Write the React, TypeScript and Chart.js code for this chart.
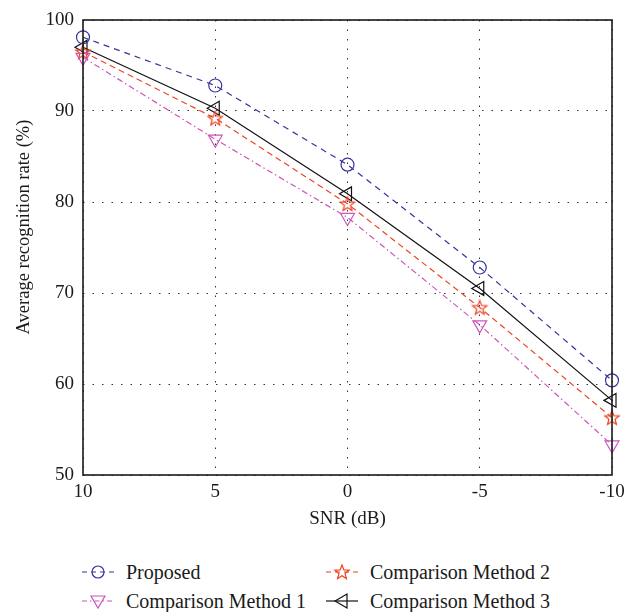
import React, { useEffect, useRef } from "react";
import { Chart, registerables } from "chart.js";

Chart.register(...registerables);

const snrLabels = ["10", "5", "0", "-5", "-10"];
const proposed = [98.1, 92.8, 84.1, 72.8, 60.4];
const method1 = [95.9, 86.9, 78.3, 66.5, 53.3];
const method2 = [96.5, 89.2, 79.8, 68.4, 56.3];
const method3 = [97.0, 90.3, 80.9, 70.5, 58.2];
const yTicks = [50, 60, 70, 80, 90, 100];

const seriesNames = ["Proposed", "Comparison Method 1", "Comparison Method 2", "Comparison Method 3"];
const xTitle = "SNR (dB)";
const yTitle = "Average recognition rate (%)";

const FONT = "'Liberation Serif', 'Times New Roman', serif";
const BLUE = "#34349e";
const RED = "#ee4422";
const MAGENTA = "#cc55bb";
const BLACK = "#111111";
const TEXT = "#1a1a1a";

function makeStar(color: string): HTMLCanvasElement {
  const c = document.createElement("canvas");
  c.width = 18;
  c.height = 18;
  const ctx = c.getContext("2d")!;
  ctx.strokeStyle = color;
  ctx.lineWidth = 1.2;
  ctx.beginPath();
  const cx = 9, cy = 9.5, ro = 7.5, ri = 3.2;
  for (let i = 0; i < 10; i++) {
    const r = i % 2 === 0 ? ro : ri;
    const a = -Math.PI / 2 + (i * Math.PI) / 5;
    const x = cx + r * Math.cos(a);
    const y = cy + r * Math.sin(a);
    if (i === 0) ctx.moveTo(x, y);
    else ctx.lineTo(x, y);
  }
  ctx.closePath();
  ctx.stroke();
  return c;
}

const boxPlugin = {
  id: "boxPlugin",
  afterDraw(chart: any) {
    const { ctx, chartArea } = chart;
    ctx.save();
    ctx.strokeStyle = "#1a1a1a";
    ctx.lineWidth = 1.6;
    ctx.strokeRect(chartArea.left, chartArea.top, chartArea.right - chartArea.left, chartArea.bottom - chartArea.top);
    // y-axis title
    ctx.translate(24, 227);
    ctx.rotate(-Math.PI / 2);
    ctx.fillStyle = TEXT;
    ctx.font = `18.5px ${FONT}`;
    ctx.textAlign = "center";
    ctx.textBaseline = "middle";
    ctx.fillText(yTitle, 0, 0);
    ctx.restore();
  },
};

function LegendMark({ color, dash, kind }: { color: string; dash: string; kind: string }) {
  const cx = 16, cy = 10;
  let marker: any = null;
  if (kind === "circle") marker = <circle cx={cx} cy={cy} r={6} fill="none" stroke={color} strokeWidth={1.2} />;
  if (kind === "down")
    marker = <polygon points={`${cx - 7},${cy - 5} ${cx + 7},${cy - 5} ${cx},${cy + 7}`} fill="none" stroke={color} strokeWidth={1.2} />;
  if (kind === "left")
    marker = <polygon points={`${cx - 7},${cy} ${cx + 5},${cy - 7} ${cx + 5},${cy + 7}`} fill="none" stroke={color} strokeWidth={1.2} />;
  if (kind === "star") {
    const pts: string[] = [];
    for (let i = 0; i < 10; i++) {
      const r = i % 2 === 0 ? 7.5 : 3.2;
      const a = -Math.PI / 2 + (i * Math.PI) / 5;
      pts.push(`${(cx + r * Math.cos(a)).toFixed(2)},${(cy + 0.5 + r * Math.sin(a)).toFixed(2)}`);
    }
    marker = <polygon points={pts.join(" ")} fill="none" stroke={color} strokeWidth={1.2} />;
  }
  return (
    <svg width={32} height={20} style={{ display: "block" }}>
      <line x1={0} y1={cy} x2={32} y2={cy} stroke={color} strokeWidth={1.2} strokeDasharray={dash} />
      {marker}
    </svg>
  );
}

export default function App() {
  const ref = useRef<HTMLCanvasElement | null>(null);

  useEffect(() => {
    if (!ref.current) return;
    const star = makeStar(RED);
    const common = { borderWidth: 1.2, pointRadius: 7, pointBorderWidth: 1.2, pointBackgroundColor: "rgba(0,0,0,0)", clip: false as any, tension: 0 };
    const chart = new Chart(ref.current, {
      type: "line",
      data: {
        labels: snrLabels,
        datasets: [
          { ...common, label: seriesNames[0], data: proposed, borderColor: BLUE, pointBorderColor: BLUE, borderDash: [6, 5], pointStyle: "circle", pointRadius: 6.5 },
          { ...common, label: seriesNames[1], data: method1, borderColor: MAGENTA, pointBorderColor: MAGENTA, borderDash: [6, 3, 1.5, 3], pointStyle: "triangle", rotation: 180, pointRadius: 8 },
          { ...common, label: seriesNames[2], data: method2, borderColor: RED, pointBorderColor: RED, borderDash: [6, 4], pointStyle: star as any },
          { ...common, label: seriesNames[3], data: method3, borderColor: BLACK, pointBorderColor: BLACK, pointStyle: "triangle", rotation: -90, pointRadius: 8 },
        ],
      },
      options: {
        responsive: false,
        animation: false,
        layout: { padding: { top: 20, right: 14, left: 0, bottom: 0 } },
        plugins: { legend: { display: false }, tooltip: { enabled: false } },
        scales: {
          x: {
            type: "category",
            offset: false,
            grid: { color: "#333", lineWidth: 1, drawTicks: false },
            border: { display: false, dash: [1.5, 8] },
            ticks: { color: TEXT, padding: 6, font: { family: FONT, size: 19 }, maxRotation: 0 },
            title: { display: true, text: xTitle, color: TEXT, font: { family: FONT, size: 19 }, padding: { top: 0, bottom: 15 } },
            afterFit: (s: any) => { s.height = 70; s.paddingLeft = 0; s.paddingRight = 0; },
          },
          y: {
            min: 50,
            max: 100,
            afterBuildTicks: (s: any) => { s.ticks = yTicks.map((v) => ({ value: v })); },
            grid: { color: "#333", lineWidth: 1, drawTicks: false },
            border: { display: false, dash: [1.5, 8] },
            ticks: { color: TEXT, padding: 9, font: { family: FONT, size: 19 } },
            title: { display: false },
            afterFit: (s: any) => { s.width = 83; s.paddingTop = 0; s.paddingBottom = 0; },
          },
        },
      },
      plugins: [boxPlugin],
    });
    return () => chart.destroy();
  }, []);

  const legendItems = [
    { name: seriesNames[0], color: BLUE, dash: "5 4", kind: "circle", left: 82, top: 562 },
    { name: seriesNames[2], color: RED, dash: "5 4", kind: "star", left: 326, top: 562 },
    { name: seriesNames[1], color: MAGENTA, dash: "5 3 1.5 3", kind: "down", left: 82, top: 591 },
    { name: seriesNames[3], color: BLACK, dash: "", kind: "left", left: 326, top: 591 },
  ];

  return (
    <div style={{ position: "absolute", left: 0, top: 0, width: 626, height: 612, background: "#fff" }}>
      <canvas ref={ref} width={626} height={545} style={{ display: "block" }} />
      {legendItems.map((it) => (
        <div key={it.name} style={{ position: "absolute", left: it.left, top: it.top, height: 20, display: "flex", alignItems: "center" }}>
          <LegendMark color={it.color} dash={it.dash} kind={it.kind} />
          <span style={{ marginLeft: 12, fontFamily: FONT, fontSize: 20, lineHeight: "20px", color: TEXT, whiteSpace: "nowrap" }}>{it.name}</span>
        </div>
      ))}
    </div>
  );
}
